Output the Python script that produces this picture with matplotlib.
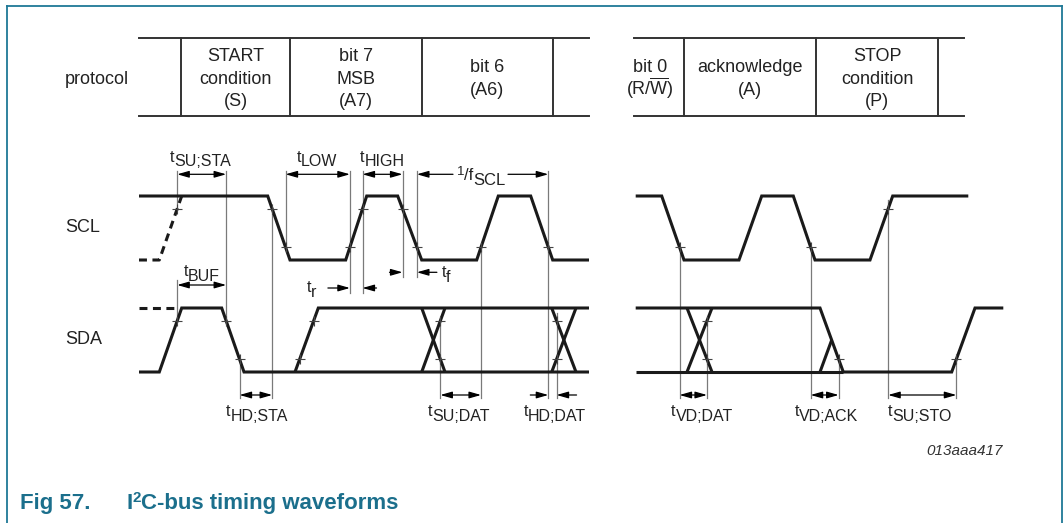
import matplotlib
matplotlib.use('Agg')
import matplotlib.pyplot as plt

plt.rcParams['font.family'] = ['Liberation Sans', 'DejaVu Sans']
plt.rcParams['mathtext.fontset'] = 'custom'
plt.rcParams['mathtext.rm'] = 'Liberation Sans'
plt.rcParams['mathtext.it'] = 'Liberation Sans:italic'
plt.rcParams['mathtext.bf'] = 'Liberation Sans:bold'

# ---------------- data ----------------
# protocol table
PROTO_SPAN_A = [139, 589]
PROTO_SPAN_B = [634, 964]
PROTO_DIVIDERS = [181, 290, 421.7, 552.7, 684.3, 815.7, 937.7]
PROTO_CELL_X = [235.5, 356, 487, 650, 750, 877]
PROTO_CELL_LINES = [["START", "condition", "(S)"],
                    ["bit 7", "MSB", "(A7)"],
                    ["bit 6", "(A6)"],
                    ["bit 0", r"(R/$\overline{\mathrm{W}}$)"],
                    ["acknowledge", "(A)"],
                    ["STOP", "condition", "(P)"]]

# waveforms: time points and logic levels (1 = high, 0 = low)
SCL_A_T = [139, 267.7, 290, 345.7, 366.7, 397.7, 421.7, 476.7, 498.3, 530.7, 552.7, 589]
SCL_A_L = [1, 1, 0, 0, 1, 1, 0, 0, 1, 1, 0, 0]
SCL_DASH_T = [139, 159.3, 181.7]
SCL_DASH_L = [0, 0, 1]
SCL_B_T = [635.7, 661.7, 684, 739, 761.7, 793.3, 815, 870, 892.7, 968.3]
SCL_B_L = [1, 1, 0, 0, 1, 1, 0, 0, 1, 1]

SDA_A_T = [139, 159.3, 181.7, 221.7, 244, 589]
SDA_A_L = [0, 0, 1, 1, 0, 0]
SDA_A2_T = [295, 318.3, 589]
SDA_A2_L = [0, 1, 1]
SDA_DASH_T = [139, 176.7]
SDA_DASH_L = [1, 1]
SDA_B_T = [635.7, 820, 843.3, 951.7, 975, 1003.3]
SDA_B_L = [1, 1, 0, 0, 1, 1]
SDA_B2_T = [635.7, 843.3]
SDA_B2_L = [0, 0]
SDA_X_START = [421.7, 551.7, 687]
SDA_X_END = [445, 576, 712]
SDA_ACK_T = [820, 831.7]
SDA_ACK_L = [0, 0.5]

TICK_LO, TICK_HI = 0.2, 0.8

# ---------------- figure ----------------
fig = plt.figure(figsize=(10.63, 5.23), dpi=100)
ax = fig.add_axes([0, 0, 1, 1])
ax.set_xlim(0, 1063)
ax.set_ylim(523, 0)
ax.axis('off')
r = fig.canvas.get_renderer()

SCL_HI, SCL_LO = 196, 260
SDA_HI, SDA_LO = 308, 372


def ys(levels, hi, lo):
    return [lo + (hi - lo) * l for l in levels]


def scl_y(levels):
    return ys(levels, SCL_HI, SCL_LO)


def sda_y(levels):
    return ys(levels, SDA_HI, SDA_LO)


def edge_x(ta, tb, la, lb, L):
    return ta + (L - la) / (lb - la) * (tb - ta)


WAVE = dict(color='#1a1a1a', lw=2.2, solid_joinstyle='miter', solid_capstyle='butt')
DASH = dict(color='#1a1a1a', lw=2.2, linestyle=(0, (2.6, 1.8)))

# border
BORDER = '#1f7896'
ax.plot([7, 7], [523, 6], color=BORDER, lw=1.3)
ax.plot([7, 1061.5], [6, 6], color=BORDER, lw=1.3)
ax.plot([1061.5, 1061.5], [6, 523], color=BORDER, lw=1.3)

# protocol table
PT, PB = 38, 116
for span in (PROTO_SPAN_A, PROTO_SPAN_B):
    ax.plot(span, [PT, PT], color='#333333', lw=1.4)
    ax.plot(span, [PB, PB], color='#333333', lw=1.4)
for x in PROTO_DIVIDERS:
    ax.plot([x, x], [PT, PB], color='#333333', lw=1.4)

TXT = '#222222'
ax.text(97, 83.5, 'protocol', fontsize=13, ha='center', va='baseline', color=TXT)
for cx, lines in zip(PROTO_CELL_X, PROTO_CELL_LINES):
    if len(lines) == 3:
        bases = [61, 83.5, 105.7]
    else:
        bases = [72.5, 94.7]
    for b, s in zip(bases, lines):
        ax.text(cx, b, s, fontsize=13, ha='center', va='baseline', color=TXT)

ax.text(65, 232.5, 'SCL', fontsize=13, ha='left', va='baseline', color=TXT)
ax.text(65, 344.5, 'SDA', fontsize=13, ha='left', va='baseline', color=TXT)

# waveforms
ax.plot(SCL_A_T, scl_y(SCL_A_L), **WAVE)
ax.plot(SCL_B_T, scl_y(SCL_B_L), **WAVE)
ax.plot(SCL_DASH_T, scl_y(SCL_DASH_L), **DASH)
ax.plot(SDA_A_T, sda_y(SDA_A_L), **WAVE)
ax.plot(SDA_A2_T, sda_y(SDA_A2_L), **WAVE)
ax.plot(SDA_DASH_T, sda_y(SDA_DASH_L), **DASH)
ax.plot(SDA_B_T, sda_y(SDA_B_L), **WAVE)
ax.plot(SDA_B2_T, sda_y(SDA_B2_L), **WAVE)
for a, b in zip(SDA_X_START, SDA_X_END):
    ax.plot([a, b], sda_y([1, 0]), **WAVE)
    ax.plot([a, b], sda_y([0, 1]), **WAVE)
ax.plot(SDA_ACK_T, sda_y(SDA_ACK_L), **WAVE)

# tick points (x on edge, level)
sc_ticks = [
    (edge_x(159.3, 181.7, 0, 1, TICK_HI), TICK_HI),
    (edge_x(267.7, 290, 1, 0, TICK_HI), TICK_HI),
    (edge_x(267.7, 290, 1, 0, TICK_LO), TICK_LO),
    (edge_x(345.7, 366.7, 0, 1, TICK_LO), TICK_LO),
    (edge_x(345.7, 366.7, 0, 1, TICK_HI), TICK_HI),
    (edge_x(397.7, 421.7, 1, 0, TICK_HI), TICK_HI),
    (edge_x(397.7, 421.7, 1, 0, TICK_LO), TICK_LO),
    (edge_x(476.7, 498.3, 0, 1, TICK_LO), TICK_LO),
    (edge_x(530.7, 552.7, 1, 0, TICK_LO), TICK_LO),
    (edge_x(661.7, 684, 1, 0, TICK_LO), TICK_LO),
    (edge_x(793.3, 815, 1, 0, TICK_LO), TICK_LO),
    (edge_x(870, 892.7, 0, 1, TICK_HI), TICK_HI),
]
sd_ticks = [
    (edge_x(159.3, 181.7, 0, 1, TICK_HI), TICK_HI),
    (edge_x(221.7, 244, 1, 0, TICK_HI), TICK_HI),
    (edge_x(221.7, 244, 1, 0, TICK_LO), TICK_LO),
    (edge_x(295, 318.3, 0, 1, TICK_LO), TICK_LO),
    (edge_x(295, 318.3, 0, 1, TICK_HI), TICK_HI),
    (edge_x(421.7, 445, 1, 0, TICK_LO), TICK_LO),
    (edge_x(421.7, 445, 0, 1, TICK_HI), TICK_HI),
    (edge_x(551.7, 576, 1, 0, TICK_HI), TICK_HI),
    (edge_x(551.7, 576, 0, 1, TICK_LO), TICK_LO),
    (edge_x(687, 712, 1, 0, TICK_LO), TICK_LO),
    (edge_x(687, 712, 0, 1, TICK_HI), TICK_HI),
    (edge_x(820, 843.3, 1, 0, TICK_LO), TICK_LO),
    (edge_x(951.7, 975, 0, 1, TICK_LO), TICK_LO),
]
TICKC = '#444444'
for x, l in sc_ticks:
    ax.plot([x], scl_y([l]), marker='+', ms=7, mew=0.8, color=TICKC, zorder=4)
for x, l in sd_ticks:
    ax.plot([x], sda_y([l]), marker='+', ms=7, mew=0.8, color=TICKC, zorder=4)

# guide (reference) lines
GT, GB = 171, 398
sct = [t[0] for t in sc_ticks]
sdt = [t[0] for t in sd_ticks]
y_sc_hi, y_sc_lo = scl_y([TICK_HI])[0], scl_y([TICK_LO])[0]
y_sd_hi, y_sd_lo = sda_y([TICK_HI])[0], sda_y([TICK_LO])[0]
guides = [
    (sct[0], GT, y_sc_hi),
    (sdt[0], 280, y_sd_hi),
    (sdt[1], GT, y_sd_hi),
    (sct[1], y_sc_hi, GB),
    (sdt[2], y_sd_lo, GB),
    (sct[2], GT, y_sc_lo),
    (sct[3], GT, 293),
    (sct[4], GT, 293),
    (sct[5], GT, 277),
    (sct[6], GT, 277),
    (sct[8], GT, GB),
    (sct[7], y_sc_lo, GB),
    (sdt[5], y_sd_hi, GB),
    (sdt[7], y_sd_hi - 8, GB),
    (sct[9], y_sc_lo, GB),
    (sdt[9], y_sd_hi, GB),
    (sct[10], y_sc_lo + 4, GB),
    (sdt[11], y_sd_lo, GB),
    (sct[11], y_sc_hi - 9, GB),
    (sdt[12], y_sd_lo, GB),
]
for x, y0, y1 in guides:
    ax.plot([x, x], [y0, y1], color='#7a7a7a', lw=0.9, zorder=1)


def arrow(x_from, x_to, y, both=False):
    style = '<|-|>' if both else '-|>'
    ax.annotate('', xy=(x_to, y), xytext=(x_from, y),
                arrowprops=dict(arrowstyle=f'{style},head_length=0.7,head_width=0.2',
                                lw=0.9, color='black', shrinkA=0, shrinkB=0,
                                mutation_scale=10))


YA_TOP, YA_BOT = 174.3, 395
arrow(sct[0], sdt[1], YA_TOP, True)           # tSU;STA
arrow(sdt[0], sdt[1], 285, True)              # tBUF
arrow(sct[2], sct[3], YA_TOP, True)           # tLOW
arrow(sct[4], sct[5], YA_TOP, True)           # tHIGH
arrow(453, sct[6], YA_TOP)                    # 1/fSCL
arrow(508, sct[8], YA_TOP)
arrow(sct[3] - 22, sct[3], 288)               # tr
arrow(sct[4] + 14, sct[4], 288)
arrow(sct[5] - 13, sct[5], 272.3)             # tf
arrow(sct[6] + 20, sct[6], 272.3)
arrow(sdt[2], sct[1], YA_BOT, True)           # tHD;STA
arrow(sdt[5], sct[7], YA_BOT, True)           # tSU;DAT
arrow(sct[8] - 18, sct[8], YA_BOT)            # tHD;DAT
arrow(sdt[7] + 20, sdt[7], YA_BOT)
arrow(sct[9], sdt[9], YA_BOT, True)           # tVD;DAT
arrow(sct[10], sdt[11], YA_BOT, True)         # tVD;ACK
arrow(sct[11], sdt[12], YA_BOT, True)         # tSU;STO


def tlabel(cx, base, sub, fs=11.5, drop=5, left=None):
    a = ax.text(0, base - drop, 't', fontsize=fs, ha='left', va='baseline', color=TXT)
    b = ax.text(0, base, sub, fontsize=fs, ha='left', va='baseline', color=TXT)
    wa = a.get_window_extent(r).width
    wb = b.get_window_extent(r).width
    x0 = left if left is not None else cx - (wa + wb) / 2
    a.set_x(x0)
    b.set_x(x0 + wa)


tlabel(200.8, 166.5, 'SU;STA')
tlabel(316.8, 166.5, 'LOW')
tlabel(382.5, 166.5, 'HIGH')
tlabel(201.5, 280.7, 'BUF')
tlabel(None, 296.7, 'r', left=306.7)
tlabel(None, 281.7, 'f', left=441.7)
tlabel(256.7, 421, 'HD;STA')
tlabel(458.3, 421, 'SU;DAT')
tlabel(555, 421, 'HD;DAT')
tlabel(702, 421, 'VD;DAT')
tlabel(826.5, 421, 'VD;ACK')
tlabel(919.5, 421, 'SU;STO')

# 1/fSCL
t1 = ax.text(457, 175, '1', fontsize=9.5, ha='left', va='baseline', color=TXT)
w1 = t1.get_window_extent(r).width
t2 = ax.text(457 + w1, 180, '/f', fontsize=12, ha='left', va='baseline', color=TXT)
w2 = t2.get_window_extent(r).width
ax.text(457 + w1 + w2, 185, 'SCL', fontsize=12, ha='left', va='baseline', color=TXT)

# figure id
ax.text(1003, 455, '013aaa417', fontsize=11, style='italic', ha='right', va='baseline', color='#333333')

# caption
CAP = '#1b6f8c'
ax.text(20, 509, 'Fig 57.', fontsize=16, fontweight='bold', ha='left', va='baseline', color=CAP)
c1 = ax.text(126, 509, 'I', fontsize=16, fontweight='bold', ha='left', va='baseline', color=CAP)
wc1 = c1.get_window_extent(r).width
c2 = ax.text(126 + wc1, 502, '2', fontsize=11, fontweight='bold', ha='left', va='baseline', color=CAP)
wc2 = c2.get_window_extent(r).width
ax.text(126 + wc1 + wc2, 509, 'C-bus timing waveforms', fontsize=16, fontweight='bold',
        ha='left', va='baseline', color=CAP)

fig.savefig('out.png', dpi=100)
